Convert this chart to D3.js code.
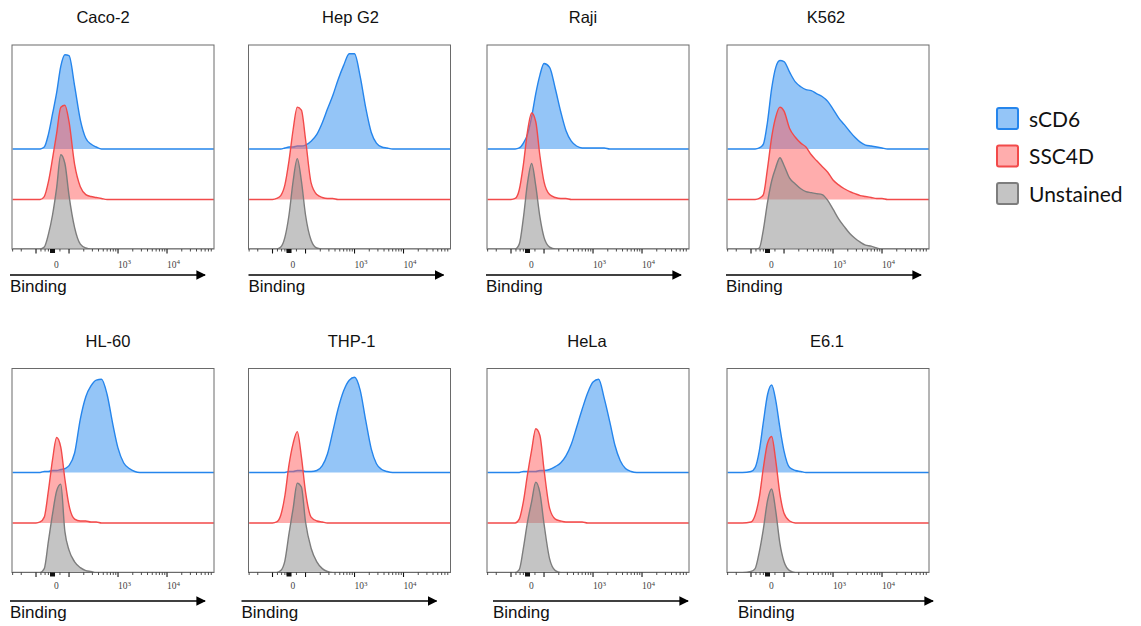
<!DOCTYPE html>
<html><head><meta charset="utf-8">
<script src="https://cdn.jsdelivr.net/npm/d3@7/dist/d3.min.js"></script>
<style>body{margin:0;background:#fff}</style>
</head><body><svg id="c" width="1141" height="626"></svg>
<script>
// ---------------- DATA ----------------
const panels = ["Caco-2","Hep G2","Raji","K562","HL-60","THP-1","HeLa","E6.1"];
const seriesNames = ["sCD6","SSC4D","Unstained"];
// histogram bin positions (binding intensity)
const binding = [-300,-200,-150,-100,-75,-50,-25,0,25,50,75,100,130,170,220,280,360,460,600,780,1000,1300,1700,2200,2800,3600,4600,6000,7800,10000,13000,20000,40000,90000];
// normalized to mode (% of max) for each panel, in panel order
const sCD6 = [
  [0,0,0,0,0,2,15,36,58,85,97,96,65,30,11,5,2,0,0,0,0,0,0,0,0,0,0,0,0,0,0,0,0,0],
  [0,0,0,0,0,0,1,2,2,3,3,4,8,15,27,41,55,71,86,98,98,75,42,17,6,2,1,0,0,0,0,0,0,0],
  [0,0,0,0,0,1,6,15,33,57,76,88,84,62,38,19,8,3,1,1,1,1,1,0,0,0,0,0,0,0,0,0,0,0],
  [0,0,0,0,0,1,5,28,62,84,91,90,79,69,64,61,60,57,54,49,41,32,25,18,12,7,4,3,2,1,0,0,0,0],
  [0,0,0,0,0,1,1,2,2,3,4,7,20,55,78,89,95,96,80,50,25,10,4,1,0,0,0,0,0,0,0,0,0,0],
  [0,0,0,0,0,0,0,1,1,2,2,1,1,2,7,19,42,65,84,95,98,85,53,24,9,3,1,0,0,0,0,0,0,0],
  [0,0,0,0,0,0,1,1,1,1,2,2,3,6,10,17,29,46,65,82,93,96,76,52,28,12,4,1,0,0,0,0,0,0],
  [0,0,0,1,5,22,52,80,90,74,46,22,5,2,1,0,0,0,0,0,0,0,0,0,0,0,0,0,0,0,0,0,0,0]
];
const ssc4d = [
  [0,0,0,0,0,3,18,42,68,95,97,80,36,13,5,3,2,1,0,0,0,0,0,0,0,0,0,0,0,0,0,0,0,0],
  [0,0,0,0,1,4,15,40,72,95,92,62,17,5,2,1,1,0,0,0,0,0,0,0,0,0,0,0,0,0,0,0,0,0],
  [0,0,0,0,1,10,36,70,89,80,45,18,5,2,1,1,0,0,0,0,0,0,0,0,0,0,0,0,0,0,0,0,0,0],
  [0,0,0,0,0,1,5,32,64,85,95,91,73,64,58,54,46,40,34,28,20,15,11,8,6,4,3,2,1,1,0,0,0,0],
  [0,0,0,0,1,6,33,65,88,78,45,18,4,2,2,1,1,0,0,0,0,0,0,0,0,0,0,0,0,0,0,0,0,0],
  [0,0,0,0,1,8,28,60,82,94,68,32,6,2,1,0,0,0,0,0,0,0,0,0,0,0,0,0,0,0,0,0,0,0],
  [0,0,0,0,0,4,22,50,75,97,90,55,15,4,2,1,1,1,1,0,0,0,0,0,0,0,0,0,0,0,0,0,0,0],
  [0,0,0,1,8,26,57,82,89,64,30,10,2,0,0,0,0,0,0,0,0,0,0,0,0,0,0,0,0,0,0,0,0,0]
];
const unstained = [
  [0,0,0,0,0,2,15,35,63,97,88,55,22,5,1,0,0,0,0,0,0,0,0,0,0,0,0,0,0,0,0,0,0,0],
  [0,0,0,0,0,2,12,35,70,93,70,35,9,1,0,0,0,0,0,0,0,0,0,0,0,0,0,0,0,0,0,0,0,0],
  [0,0,0,0,0,5,32,68,88,65,33,12,2,0,0,0,0,0,0,0,0,0,0,0,0,0,0,0,0,0,0,0,0,0],
  [0,0,0,0,0,1,20,48,70,84,94,86,73,67,62,59,58,57,56,50,41,31,23,16,11,7,4,3,1,0,0,0,0,0],
  [0,0,0,0,0,4,32,60,84,91,42,23,11,5,2,1,0,0,0,0,0,0,0,0,0,0,0,0,0,0,0,0,0,0],
  [0,0,0,0,0,2,12,40,66,92,88,52,25,11,4,1,0,0,0,0,0,0,0,0,0,0,0,0,0,0,0,0,0,0],
  [0,0,0,0,0,3,25,52,73,93,82,50,14,2,0,0,0,0,0,0,0,0,0,0,0,0,0,0,0,0,0,0,0,0],
  [0,0,0,1,4,21,45,74,86,63,30,11,2,0,0,0,0,0,0,0,0,0,0,0,0,0,0,0,0,0,0,0,0,0]
];
const majorTicks = [-100, 100, 1000, 10000];
const minorTicks = [-300,-200,-70,-45,-25,-12,45,200,300,400,500,600,700,800,900,2000,3000,4000,5000,6000,7000,8000,9000,20000,30000,40000,50000,60000,70000,80000];
const tickLabelValues = [0, 1000, 10000];
const tickLabelBase = ["0","10","10"];
const tickLabelExp = ["","3","4"];
const axisTitle = "Binding";

// ---------------- LAYOUT / STYLE ----------------
const W = 202, H = 204;
const colLeft = [12, 248.5, 487, 727];
const rowTop = [45, 368.5];
const titleDx = [-10, 1, -5, -2, -5, 2, -1, -1];
const arrowDx = [-2, 0, -1, -1, -2, -7, 6, 11];
const arrowDy = [26, 28.5];
const labelDy = [18.5, 16.5];
const offsets = [103, 51, 0];
const lineColors = ["#2585ec", "#f24a4a", "#7d7d7d"];
const fillColors = ["#2a8cf0", "#ff5c5c", "#8a8a8a"];
const seriesData = [sCD6, ssc4d, unstained];

// logicle-like transform: linear near zero, logarithmic beyond +/-100
const A = 0.337;
function biex(v) {
  const a = Math.abs(v);
  if (a <= 100) return v / 100 * A;
  return Math.sign(v) * (A + Math.log10(a / 100));
}

const svg = d3.select("#c");
svg.append("rect").attr("width",1141).attr("height",626).attr("fill","#fff");

const defs = svg.append("defs");
defs.append("marker").attr("id","arr").attr("viewBox","0 0 10 10")
  .attr("refX",9).attr("refY",5).attr("markerWidth",6).attr("markerHeight",6)
  .attr("orient","auto").attr("markerUnits","strokeWidth")
  .append("path").attr("d","M0,0L10,5L0,10z").attr("fill","#000");

const tx = d3.scaleLinear().domain([-0.827, 3.296]).range([0, W]);
const x = v => tx(biex(v));
const y = d3.scaleLinear().domain([0, 210]).range([H, 0]);

panels.forEach((name, i) => {
  const row = Math.floor(i / 4), col = i % 4;
  const L = colLeft[col], T = rowTop[row];
  const g = svg.append("g").attr("transform", `translate(${L},${T})`);

  defs.append("clipPath").attr("id", "clip" + i)
    .append("rect").attr("width", W).attr("height", H);

  const plot = g.append("g").attr("clip-path", `url(#clip${i})`);
  seriesData.forEach((sd, s) => {
    const vals = sd[i];
    const pts = binding.map((b, k) => [b, vals[k]]);
    const area = d3.area().x(d => x(d[0])).y0(y(offsets[s])).y1(d => y(offsets[s] + d[1]))
      .curve(d3.curveMonotoneX);
    const line = d3.line().x(d => x(d[0])).y(d => y(offsets[s] + d[1])).curve(d3.curveMonotoneX);
    plot.append("path").datum(pts).attr("d", area)
      .attr("fill", fillColors[s]).attr("fill-opacity", 0.5);
    plot.append("path").datum(pts).attr("d", line)
      .attr("fill", "none").attr("stroke", lineColors[s]).attr("stroke-width", 1.4);
  });

  g.append("rect").attr("width", W).attr("height", H)
    .attr("fill", "none").attr("stroke", "#6a6a6a").attr("stroke-width", 1);

  // ticks
  const ax = g.append("g").attr("transform", `translate(0,${H})`);
  ax.selectAll(".mn").data(minorTicks).enter().append("line")
    .attr("x1", d => x(d)).attr("x2", d => x(d)).attr("y1", 0).attr("y2", 2.5)
    .attr("stroke", "#222").attr("stroke-width", 0.8);
  ax.selectAll(".mj").data(majorTicks).enter().append("line")
    .attr("x1", d => x(d)).attr("x2", d => x(d)).attr("y1", 0).attr("y2", 4.5)
    .attr("stroke", "#111").attr("stroke-width", 1.1);
  ax.append("rect").attr("x", x(0) - 2.5).attr("y", 0).attr("width", 5).attr("height", 4).attr("fill", "#111");

  tickLabelValues.forEach((v, k) => {
    const t = ax.append("text").attr("x", x(v) + (v === 0 ? 1.5 : 0)).attr("y", labelDy[row])
      .attr("font-family", "Liberation Serif").attr("font-size", 9.5).attr("fill", "#444");
    t.append("tspan").text(tickLabelBase[k]);
    if (tickLabelExp[k]) t.append("tspan").attr("dy", -3.5).attr("font-size", 7).text(tickLabelExp[k]);
  });

  // arrow + axis title
  const ay = H + arrowDy[row];
  const x0 = arrowDx[i];
  g.append("line").attr("x1", x0).attr("x2", x0 + 195).attr("y1", ay).attr("y2", ay)
    .attr("stroke", "#000").attr("stroke-width", 1.6).attr("marker-end", "url(#arr)");
  g.append("text").attr("x", x0).attr("y", ay + 16.5)
    .attr("font-family", "Liberation Sans, Arial, sans-serif").attr("font-size", 17)
    .attr("fill", "#111").text(axisTitle);

  // title
  g.append("text").attr("x", W / 2 + titleDx[i]).attr("y", -22)
    .attr("text-anchor", "middle").attr("font-family", "Liberation Sans, Arial, sans-serif")
    .attr("font-size", 16.5).attr("fill", "#111").text(name);
});

// legend
const legY = [108, 145.5, 183];
const leg = svg.append("g");
seriesNames.forEach((n, s) => {
  leg.append("rect").attr("x", 997).attr("y", legY[s]).attr("width", 21).attr("height", 21).attr("rx", 2)
    .attr("fill", fillColors[s]).attr("fill-opacity", 0.5)
    .attr("stroke", lineColors[s]).attr("stroke-width", 2);
  leg.append("text").attr("x", 1029).attr("y", legY[s] + 18.5)
    .attr("font-family", "Lato, 'Open Sans', sans-serif").attr("font-size", 21)
    .attr("fill", "#111").text(n);
});
</script></body></html>
